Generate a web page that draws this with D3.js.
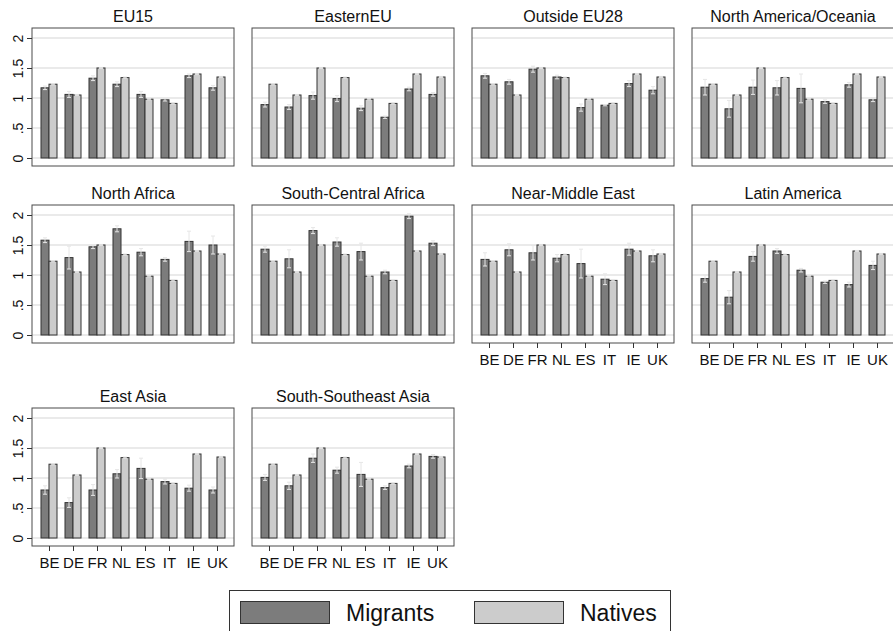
<!DOCTYPE html>
<html>
<head>
<meta charset="utf-8">
<script src="https://cdn.jsdelivr.net/npm/d3@7"></script>
<style>
  html, body { margin: 0; padding: 0; background: #fff; }
  svg { display: block; font-family: "Liberation Sans", Arial, sans-serif; }
</style>
</head>
<body>
<svg id="chart" width="893" height="631"></svg>
<script>
// Countries on the x axis of every panel
const countries = ["BE", "DE", "FR", "NL", "ES", "IT", "IE", "UK"];

// Origin groups, one panel each
const regions = [
  "EU15", "EasternEU", "Outside EU28", "North America/Oceania",
  "North Africa", "South-Central Africa", "Near-Middle East", "Latin America",
  "East Asia", "South-Southeast Asia"
];

// Natives (same reference in every panel)
const natives    = [1.23, 1.05, 1.50, 1.34, 0.98, 0.91, 1.40, 1.35];
const nativesErr = [0.01, 0.01, 0.01, 0.01, 0.01, 0.01, 0.01, 0.01];

// Migrants by origin group, with error half-widths
const migEU15       = [1.17, 1.06, 1.33, 1.23, 1.06, 0.97, 1.37, 1.17];
const errEU15       = [0.03, 0.05, 0.04, 0.04, 0.05, 0.02, 0.03, 0.04];
const migEastern    = [0.89, 0.85, 1.04, 0.99, 0.83, 0.68, 1.15, 1.06];
const errEastern    = [0.04, 0.04, 0.06, 0.05, 0.04, 0.02, 0.03, 0.03];
const migOutside    = [1.37, 1.27, 1.48, 1.35, 0.84, 0.88, 1.24, 1.13];
const errOutside    = [0.04, 0.04, 0.05, 0.03, 0.06, 0.01, 0.05, 0.06];
const migNAmOce     = [1.18, 0.82, 1.18, 1.17, 1.16, 0.94, 1.22, 0.97];
const errNAmOce     = [0.13, 0.14, 0.12, 0.12, 0.24, 0.03, 0.04, 0.03];
const migNAfrica    = [1.58, 1.29, 1.47, 1.77, 1.38, 1.26, 1.56, 1.50];
const errNAfrica    = [0.04, 0.19, 0.03, 0.05, 0.06, 0.03, 0.17, 0.15];
const migSCAfrica   = [1.43, 1.27, 1.74, 1.55, 1.39, 1.05, 1.98, 1.53];
const errSCAfrica   = [0.05, 0.15, 0.05, 0.07, 0.14, 0.03, 0.04, 0.04];
const migNearMiddle = [1.26, 1.42, 1.37, 1.28, 1.19, 0.93, 1.43, 1.32];
const errNearMiddle = [0.11, 0.10, 0.12, 0.06, 0.24, 0.09, 0.10, 0.10];
const migLatAm      = [0.94, 0.63, 1.31, 1.40, 1.08, 0.88, 0.84, 1.16];
const errLatAm      = [0.06, 0.11, 0.08, 0.04, 0.03, 0.02, 0.04, 0.07];
const migEAsia      = [0.80, 0.59, 0.80, 1.07, 1.16, 0.94, 0.83, 0.80];
const errEAsia      = [0.07, 0.08, 0.09, 0.07, 0.17, 0.04, 0.05, 0.05];
const migSSEAsia    = [1.01, 0.87, 1.33, 1.13, 1.06, 0.84, 1.20, 1.36];
const errSSEAsia    = [0.05, 0.06, 0.07, 0.05, 0.20, 0.03, 0.03, 0.03];

const migrants = [migEU15, migEastern, migOutside, migNAmOce, migNAfrica,
                  migSCAfrica, migNearMiddle, migLatAm, migEAsia, migSSEAsia];
const migrantsErr = [errEU15, errEastern, errOutside, errNAmOce, errNAfrica,
                     errSCAfrica, errNearMiddle, errLatAm, errEAsia, errSSEAsia];

// Y axis ticks
const yTicks = [0, 0.5, 1, 1.5, 2];
const yTickLabels = ["0", ".5", "1", "1.5", "2"];

// Legend entries
const legendLabels = ["Migrants", "Natives"];

const COL_MIG = "#7c7c7c";
const COL_NAT = "#cccccc";
const COL_EDGE = "#333333";
const COL_ERR = "#e6e6e6";
const COL_GRID = "#e3e3e3";

const svg = d3.select("#chart");

const colLeft = [32, 252, 472, 692];
const rowTop = [28, 205, 408];
const boxW = 202, boxH = 138;
const barW = 8;

// Panels with x labels (no panel below) and with y labels (first column)
const showX = new Set([6, 7, 8, 9]);

regions.forEach((name, i) => {
  const r = Math.floor(i / 4), c = i % 4;
  const left = colLeft[c], top = rowTop[r];
  const bottom = top + boxH;

  const x = d3.scalePoint().domain(countries).range([left + 17, left + boxW - 17]);
  const y = d3.scaleLinear().domain([0, 2]).range([bottom - 8, top + 10]);

  const g = svg.append("g");

  // grid lines
  g.selectAll("line.grid").data(yTicks).join("line")
    .attr("x1", left).attr("x2", left + boxW)
    .attr("y1", d => y(d)).attr("y2", d => y(d))
    .attr("stroke", COL_GRID).attr("stroke-width", 1.5);

  const rows = countries.map((k, j) => ({
    k, mig: migrants[i][j], migE: migrantsErr[i][j],
    nat: natives[j], natE: nativesErr[j]
  }));

  // migrant bars
  g.selectAll("rect.mig").data(rows).join("rect")
    .attr("x", d => x(d.k) - barW).attr("width", barW)
    .attr("y", d => y(d.mig)).attr("height", d => y(0) - y(d.mig))
    .attr("fill", COL_MIG).attr("stroke", COL_EDGE).attr("stroke-width", 1);

  // native bars
  g.selectAll("rect.nat").data(rows).join("rect")
    .attr("x", d => x(d.k)).attr("width", barW)
    .attr("y", d => y(d.nat)).attr("height", d => y(0) - y(d.nat))
    .attr("fill", COL_NAT).attr("stroke", COL_EDGE).attr("stroke-width", 1);

  // error bars
  const errs = [];
  rows.forEach(d => {
    errs.push({ cx: x(d.k) - barW / 2, v: d.mig, e: d.migE });
    errs.push({ cx: x(d.k) + barW / 2, v: d.nat, e: d.natE });
  });
  const eg = g.selectAll("g.err").data(errs).join("g");
  eg.append("line")
    .attr("x1", d => d.cx).attr("x2", d => d.cx)
    .attr("y1", d => y(d.v - d.e)).attr("y2", d => y(d.v + d.e))
    .attr("stroke", COL_ERR).attr("stroke-width", 1);
  eg.append("line")
    .attr("x1", d => d.cx - 2).attr("x2", d => d.cx + 2)
    .attr("y1", d => y(d.v + d.e)).attr("y2", d => y(d.v + d.e))
    .attr("stroke", COL_ERR).attr("stroke-width", 1);
  eg.append("line")
    .attr("x1", d => d.cx - 2).attr("x2", d => d.cx + 2)
    .attr("y1", d => y(d.v - d.e)).attr("y2", d => y(d.v - d.e))
    .attr("stroke", COL_ERR).attr("stroke-width", 1);

  // panel frame
  g.append("rect")
    .attr("x", left).attr("y", top).attr("width", boxW).attr("height", boxH)
    .attr("fill", "none").attr("stroke", "#4a4a4a").attr("stroke-width", 1);

  // title
  g.append("text")
    .attr("x", left + boxW / 2).attr("y", top - 6)
    .attr("text-anchor", "middle").attr("font-size", 16).attr("fill", "#111")
    .text(name);

  // y axis in first column
  if (c === 0) {
    const ya = d3.axisLeft(y).tickValues(yTicks)
      .tickFormat((d, j) => yTickLabels[j]).tickSize(5).tickPadding(4);
    const ag = g.append("g").attr("transform", `translate(${left},0)`).call(ya);
    ag.select(".domain").remove();
    ag.selectAll(".tick line").attr("stroke", "#333");
    ag.selectAll(".tick text")
      .attr("font-size", 14).attr("fill", "#111")
      .attr("font-family", "Liberation Sans, Arial, sans-serif")
      .attr("transform", "rotate(-90)")
      .attr("x", 0).attr("y", -14)
      .attr("dy", "0.35em")
      .attr("text-anchor", "middle");
  }

  // x axis where no panel sits below
  if (showX.has(i)) {
    const xa = d3.axisBottom(x).tickSize(5).tickPadding(6);
    const ag = g.append("g").attr("transform", `translate(0,${bottom})`).call(xa);
    ag.select(".domain").remove();
    ag.selectAll(".tick line").attr("stroke", "#333");
    ag.selectAll(".tick text")
      .attr("font-size", 15).attr("fill", "#111")
      .attr("font-family", "Liberation Sans, Arial, sans-serif");
  }
});

// legend
const lg = svg.append("g");
lg.append("rect").attr("x", 229.5).attr("y", 590.5).attr("width", 441).attr("height", 60)
  .attr("fill", "#fff").attr("stroke", "#333").attr("stroke-width", 1);
const legendFill = [COL_MIG, COL_NAT];
const swX = [240, 474], txX = [346, 580];
legendLabels.forEach((lab, j) => {
  lg.append("rect").attr("x", swX[j] + 0.5).attr("y", 601.5).attr("width", 89).attr("height", 22)
    .attr("fill", legendFill[j]).attr("stroke", COL_EDGE).attr("stroke-width", 1);
  lg.append("text").attr("x", txX[j]).attr("y", 621)
    .attr("font-size", 23).attr("fill", "#111").text(lab);
});
</script>
</body>
</html>
